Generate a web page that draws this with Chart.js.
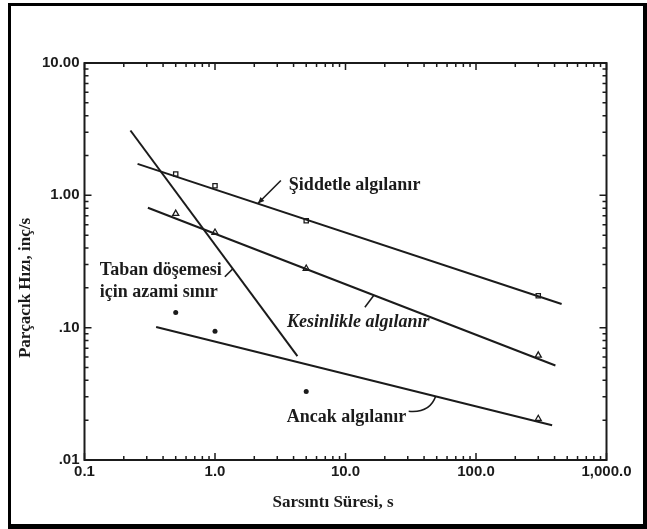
<!DOCTYPE html>
<html>
<head>
<meta charset="utf-8">
<script src="https://cdn.jsdelivr.net/npm/chart.js@4.4.1/dist/chart.umd.min.js"></script>
<style>
  html, body { margin: 0; padding: 0; background: #fff; }
  #wrap { width: 647px; height: 529px; }
</style>
</head>
<body>
<div id="wrap"><canvas id="myChart" width="647" height="529"></canvas></div>
<script>
// values (log-log)
var xDecades = [0.1, 1, 10, 100, 1000];
var xTickLabels = ["0.1", "1.0", "10.0", "100.0", "1,000.0"];
var yDecades = [0.01, 0.1, 1, 10];
var yTickLabels = [".01", ".10", "1.00", "10.00"];

// measured points (duration, s)
var pointX = [0.5, 1, 5, 300];
var siddetleY = [1.45, 1.18, 0.643, 0.174];
var kesinlikleY = [0.727, 0.524, 0.28, 0.0618];
var ancakPointX = [300];
var ancakPointY = [0.0205];

// fitted lines (ends)
var siddetleLineX = [0.255, 453];
var siddetleLineY = [1.73, 0.151];
var kesinlikleLineX = [0.306, 406];
var kesinlikleLineY = [0.805, 0.0518];
var ancakLineX = [0.354, 383];
var ancakLineY = [0.101, 0.0183];
var tabanLineX = [0.225, 4.28];
var tabanLineY = [3.09, 0.061];

// loose dots
var dotX = [0.5, 1, 5];
var dotY = [0.130, 0.094, 0.0329];

function pts(xs, ys) {
    var out = [];
    for (var i = 0; i < xs.length; i++) out.push({x: xs[i], y: ys[i]});
    return out;
}

var ink = "#1b1b1b";
var serif = "'Liberation Serif', 'DejaVu Serif', serif";
var sans = "'Liberation Sans', sans-serif";

// annotation pointers: tip sits on a line (data coords), rest is pixel offsets
var notes = [
    {tip: [2.13, 0.867], tail: [23, -23], head: true, lines: ["Şiddetle algılanır"], text: [31, -18], italic: false},
    {tip: [16.5, 0.176], tail: [-9, 12], head: false, lines: ["Kesinlikle algılanır"], text: [-87, 27], italic: true},
    {tip: [1.37, 0.279], tail: [-8, 8], head: false, lines: ["Taban döşemesi", "için azami sınır"], text: [-133, 2], italic: false},
    {tip: [49.1, 0.0303], tail: [-27, 15], head: false, curve: true, lines: ["Ancak algılanır"], text: [-149, 21], italic: false}
];

var decor = {
    id: "decor",
    afterDraw: function(chart) {
        var c = chart.ctx, a = chart.chartArea;
        var xs = chart.scales.x, ys = chart.scales.y;
        c.save();
        // plot box
        c.strokeStyle = ink;
        c.lineWidth = 2;
        c.strokeRect(a.left, a.top, a.right - a.left, a.bottom - a.top);

        // inward ticks on all four sides
        c.lineWidth = 1.5;
        c.beginPath();
        for (var i = 0; i < xDecades.length; i++) {
            for (var k = 1; k <= 9; k++) {
                var v = xDecades[i] * k;
                if (v > 1000 + 1e-9) break;
                var px = xs.getPixelForValue(v);
                var len = k === 1 ? 7 : 4;
                c.moveTo(px, a.bottom); c.lineTo(px, a.bottom - len);
                c.moveTo(px, a.top); c.lineTo(px, a.top + len);
            }
        }
        for (var j = 0; j < yDecades.length; j++) {
            for (var m = 1; m <= 9; m++) {
                var w = yDecades[j] * m;
                if (w > 10 + 1e-9) break;
                var py = ys.getPixelForValue(w);
                var l2 = m === 1 ? 7 : 4;
                c.moveTo(a.left, py); c.lineTo(a.left + l2, py);
                c.moveTo(a.right, py); c.lineTo(a.right - l2, py);
            }
        }
        c.stroke();

        // pointers and labels
        c.fillStyle = ink;
        c.strokeStyle = ink;
        notes.forEach(function(n) {
            var tx = xs.getPixelForValue(n.tip[0]);
            var ty = ys.getPixelForValue(n.tip[1]);
            var ex = tx + n.tail[0], ey = ty + n.tail[1];
            c.lineWidth = 1.6;
            c.beginPath();
            c.moveTo(ex, ey);
            if (n.curve) {
                c.quadraticCurveTo(tx - 6, ey + 2, tx, ty);
            } else {
                c.lineTo(tx, ty);
            }
            c.stroke();
            if (n.head) {
                var ang = Math.atan2(ty - ey, tx - ex);
                c.beginPath();
                c.moveTo(tx, ty);
                c.lineTo(tx - 7 * Math.cos(ang - 0.4), ty - 7 * Math.sin(ang - 0.4));
                c.lineTo(tx - 7 * Math.cos(ang + 0.4), ty - 7 * Math.sin(ang + 0.4));
                c.closePath();
                c.fill();
            }
            c.font = (n.italic ? "italic " : "") + "bold 18px " + serif;
            c.textAlign = "left";
            c.textBaseline = "middle";
            for (var q = 0; q < n.lines.length; q++) {
                c.fillText(n.lines[q], tx + n.text[0], ty + n.text[1] + q * 22);
            }
        });

        // axis titles
        c.font = "bold 17px " + serif;
        c.textAlign = "center";
        c.textBaseline = "middle";
        c.fillText("Sarsıntı Süresi, s", 333, 503);
        c.translate(26, 288);
        c.rotate(-Math.PI / 2);
        c.fillText("Parçacık Hızı, inç/s", 0, 0);
        c.restore();

        // outer frame
        c.save();
        c.fillStyle = "#000";
        c.fillRect(8, 3, 3, 524);
        c.fillRect(8, 3, 639, 3);
        c.fillRect(643, 3, 4, 524);
        c.fillRect(8, 524, 639, 5);
        c.restore();
    }
};

const myChart = document.querySelector('#myChart').getContext('2d');

const chart = new Chart(myChart, {
    type: "scatter",
    data: {
        datasets: [
            {
                label: "Şiddetle algılanır",
                data: pts(siddetleLineX, siddetleLineY),
                showLine: true, pointRadius: 0,
                borderColor: ink, borderWidth: 2
            },
            {
                label: "Şiddetle noktalar",
                data: pts(pointX, siddetleY),
                pointStyle: "rect", pointRadius: 3,
                backgroundColor: "#fff", borderColor: ink, borderWidth: 1.3
            },
            {
                label: "Kesinlikle algılanır",
                data: pts(kesinlikleLineX, kesinlikleLineY),
                showLine: true, pointRadius: 0,
                borderColor: ink, borderWidth: 2
            },
            {
                label: "Kesinlikle noktalar",
                data: pts(pointX, kesinlikleY),
                pointStyle: "triangle", pointRadius: 3.5,
                backgroundColor: "#fff", borderColor: ink, borderWidth: 1.3
            },
            {
                label: "Ancak algılanır",
                data: pts(ancakLineX, ancakLineY),
                showLine: true, pointRadius: 0,
                borderColor: ink, borderWidth: 2
            },
            {
                label: "Ancak noktalar",
                data: pts(ancakPointX, ancakPointY),
                pointStyle: "triangle", pointRadius: 3.5,
                backgroundColor: "#fff", borderColor: ink, borderWidth: 1.3
            },
            {
                label: "Taban döşemesi için azami sınır",
                data: pts(tabanLineX, tabanLineY),
                showLine: true, pointRadius: 0,
                borderColor: ink, borderWidth: 2
            },
            {
                label: "Noktalar",
                data: pts(dotX, dotY),
                pointStyle: "circle", pointRadius: 2.5,
                backgroundColor: ink, borderColor: ink, borderWidth: 0
            }
        ]
    },
    options: {
        responsive: false,
        animation: false,
        layout: { padding: { left: 14, right: 40.5, top: 63, bottom: 0 } },
        plugins: { legend: { display: false }, tooltip: { enabled: false } },
        scales: {
            x: {
                type: "logarithmic",
                min: 0.1, max: 1000,
                grid: { display: false, drawTicks: false },
                border: { display: false },
                afterBuildTicks: function(s) { s.ticks = xDecades.map(function(v) { return {value: v}; }); },
                afterFit: function(s) { s.height = 69; },
                ticks: {
                    autoSkip: false, maxRotation: 0, padding: 3,
                    color: ink,
                    font: { family: sans, size: 15, weight: "bold" },
                    callback: function(v) { var i = xDecades.indexOf(v); return i >= 0 ? xTickLabels[i] : ""; }
                }
            },
            y: {
                type: "logarithmic",
                min: 0.01, max: 10,
                grid: { display: false, drawTicks: false },
                border: { display: false },
                afterBuildTicks: function(s) { s.ticks = yDecades.map(function(v) { return {value: v}; }); },
                afterFit: function(s) { s.width = 70.5; },
                ticks: {
                    autoSkip: false, padding: 5,
                    color: ink,
                    font: { family: sans, size: 15, weight: "bold" },
                    callback: function(v) { var i = yDecades.indexOf(v); return i >= 0 ? yTickLabels[i] : ""; }
                }
            }
        }
    },
    plugins: [decor]
});
</script>
</body>
</html>
